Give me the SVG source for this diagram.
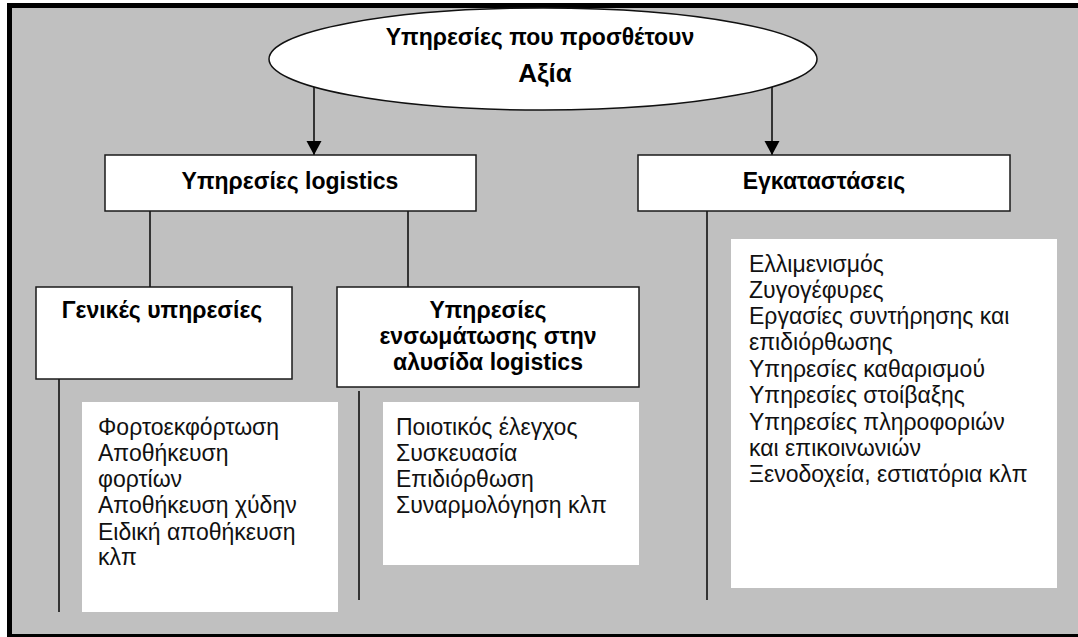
<svg xmlns="http://www.w3.org/2000/svg" width="1078" height="637" viewBox="0 0 1078 637">
<defs>
<style>
.box{fill:#ffffff;stroke:#1a1a1a;stroke-width:1.5}
.list{fill:#ffffff}
.hd{font-family:"Liberation Sans",Arial,sans-serif;font-weight:bold;font-size:23px;fill:#000;text-anchor:middle}
.tx{font-family:"Liberation Sans",Arial,sans-serif;font-size:23px;fill:#111}
.ln{stroke:#111;stroke-width:1.6;fill:none}
</style>
<marker id="ah" markerWidth="16" markerHeight="16" refX="14" refY="7.5" orient="auto" markerUnits="userSpaceOnUse">
<path d="M0,0 L14,7.5 L0,15 Z" fill="#000"/>
</marker>
</defs>
<rect x="0" y="0" width="1078" height="637" fill="#ffffff"/>
<rect x="7" y="3" width="1075" height="640" fill="#000"/>
<rect x="12" y="8" width="1070" height="626" fill="#c0c0c0"/>

<g id="connectors">
<line class="ln" x1="314" y1="87" x2="314" y2="155" marker-end="url(#ah)"/>
<line class="ln" x1="772" y1="87" x2="772" y2="155" marker-end="url(#ah)"/>
<line class="ln" x1="150" y1="211" x2="150" y2="287"/>
<line class="ln" x1="408" y1="211" x2="408" y2="287"/>
<line class="ln" x1="59" y1="379" x2="59" y2="612"/>
<line class="ln" x1="359" y1="391" x2="359" y2="600"/>
<line class="ln" x1="707" y1="211" x2="707" y2="600"/>
</g>

<g id="root">
<ellipse cx="543" cy="59" rx="274" ry="51" fill="#ffffff" stroke="#111" stroke-width="1.5"/>
<text class="hd" x="540" y="45">Υπηρεσίες που προσθέτουν</text>
<text class="hd" x="545" y="82" style="font-size:26px">Αξία</text>
</g>

<g id="logistics">
<rect class="box" x="105" y="155" width="371" height="56"/>
<text class="hd" x="290" y="189">Υπηρεσίες logistics</text>
</g>

<g id="egkatastaseis">
<rect class="box" x="638" y="155" width="372" height="56"/>
<text class="hd" x="824" y="189">Εγκαταστάσεις</text>
</g>

<g id="genikes">
<rect class="box" x="36" y="287" width="256" height="92"/>
<text class="hd" x="162" y="318">Γενικές υπηρεσίες</text>
</g>

<g id="ensomatosi">
<rect class="box" x="337" y="287" width="302" height="100"/>
<text class="hd" x="488" y="318">Υπηρεσίες</text>
<text class="hd" x="488" y="344">ενσωμάτωσης στην</text>
<text class="hd" x="488" y="370">αλυσίδα logistics</text>
</g>

<g id="list-genikes">
<rect class="list" x="82" y="402" width="256" height="210"/>
<text class="tx" x="98" y="435">Φορτοεκφόρτωση</text>
<text class="tx" x="98" y="461">Αποθήκευση</text>
<text class="tx" x="98" y="487">φορτίων</text>
<text class="tx" x="98" y="513">Αποθήκευση χύδην</text>
<text class="tx" x="98" y="540">Ειδική αποθήκευση</text>
<text class="tx" x="98" y="565">κλπ</text>
</g>

<g id="list-ensomatosi">
<rect class="list" x="383" y="402" width="256" height="163"/>
<text class="tx" x="396" y="435">Ποιοτικός έλεγχος</text>
<text class="tx" x="396" y="461">Συσκευασία</text>
<text class="tx" x="396" y="487">Επιδιόρθωση</text>
<text class="tx" x="396" y="513">Συναρμολόγηση κλπ</text>
</g>

<g id="list-egkatastaseis">
<rect class="list" x="731" y="239" width="326" height="349"/>
<text class="tx" x="749" y="272">Ελλιμενισμός</text>
<text class="tx" x="749" y="298">Ζυγογέφυρες</text>
<text class="tx" x="749" y="324">Εργασίες συντήρησης και</text>
<text class="tx" x="749" y="350">επιδιόρθωσης</text>
<text class="tx" x="749" y="377">Υπηρεσίες καθαρισμού</text>
<text class="tx" x="749" y="403">Υπηρεσίες στοίβαξης</text>
<text class="tx" x="749" y="430">Υπηρεσίες πληροφοριών</text>
<text class="tx" x="749" y="456">και επικοινωνιών</text>
<text class="tx" x="749" y="482">Ξενοδοχεία, εστιατόρια κλπ</text>
</g>
</svg>
